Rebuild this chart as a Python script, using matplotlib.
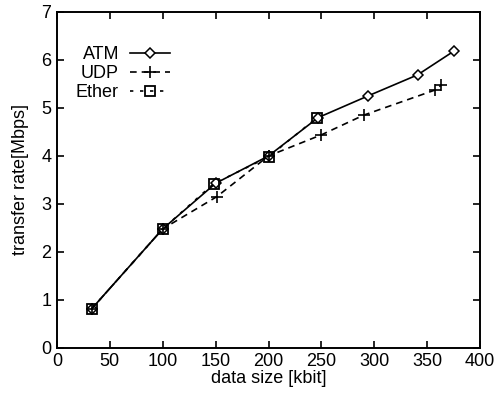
import matplotlib.pyplot as plt

plt.rcParams['font.family'] = ['Liberation Sans', 'DejaVu Sans']

# data
atm_x = [33, 100, 150, 200, 247, 294, 341, 375]
atm_y = [0.82, 2.48, 3.43, 4.0, 4.80, 5.25, 5.69, 6.18]
udp_x = [33, 100, 151, 200, 250, 290, 357, 363]
udp_y = [0.82, 2.48, 3.15, 4.0, 4.44, 4.85, 5.37, 5.47]
eth_x = [33, 100, 148, 200, 246]
eth_y = [0.82, 2.48, 3.42, 3.98, 4.80]

fig = plt.figure(figsize=(5.03, 3.99), dpi=100)
ax = fig.add_axes([0.1133, 0.128, 0.841, 0.842])

ax.plot(atm_x, atm_y, '-', color='black', lw=1.2, marker='D', ms=5.5,
        mfc='white', mec='black', mew=1.1, label='ATM')
ax.plot(udp_x, udp_y, '--', color='black', lw=1.2, marker='+', ms=9,
        mew=1.2, dashes=(4, 3), label='UDP')
ax.plot(eth_x, eth_y, '--', color='black', lw=1.2, marker='s', ms=7,
        mfc='none', mec='black', mew=1.3, dashes=(2, 4), label='Ether')

ax.set_xlim(0, 400)
ax.set_ylim(0, 7)
ax.set_xticks(range(0, 401, 50))
ax.set_yticks(range(0, 8))
ax.tick_params(direction='in', top=True, right=True, length=5, width=1.2,
               labelsize=13, pad=4)
for s in ax.spines.values():
    s.set_linewidth(1.4)

ax.set_xlabel('data size [kbit]', fontsize=13, labelpad=0)
ax.set_ylabel('transfer rate[Mbps]', fontsize=13, labelpad=9)

ax.legend(loc='upper left', bbox_to_anchor=(0.015, 0.935), frameon=False,
          markerfirst=False, fontsize=13, handlelength=2.2,
          handletextpad=0.6, labelspacing=0.1, borderaxespad=0.3)
for t in ax.get_legend().get_texts():
    t.set_ha('right')
ax.get_legend()._legend_box.align = 'right'

fig.savefig('out.png', dpi=100)
